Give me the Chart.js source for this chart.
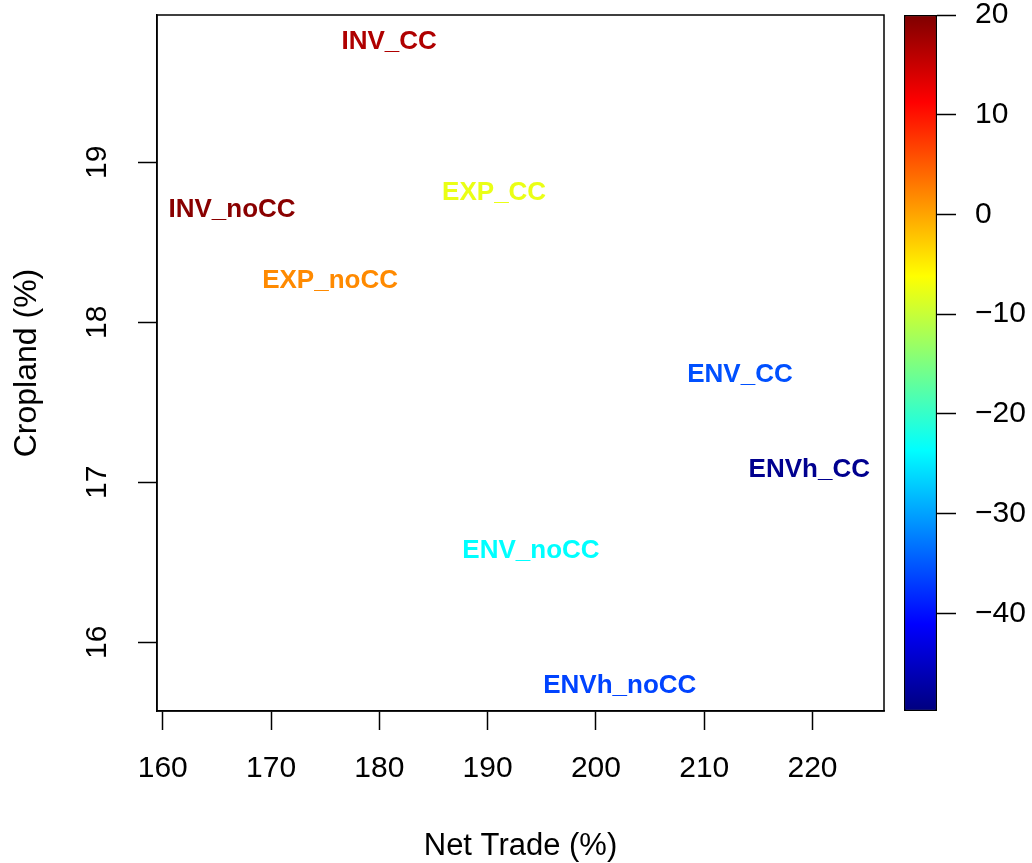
<!DOCTYPE html>
<html>
<head>
<meta charset="utf-8">
<script src="https://cdn.jsdelivr.net/npm/chart.js@4.4.0/dist/chart.umd.min.js"></script>
<style>
  html, body { margin: 0; padding: 0; background: #fff; }
  #wrap { position: relative; width: 1032px; height: 863px; }
  #main { position: absolute; left: 0; top: 0; }
  #bar { position: absolute; left: 880px; top: 0; }
</style>
</head>
<body>
<div id="wrap">
  <canvas id="main" width="1032" height="863"></canvas>
  <canvas id="bar" width="152" height="863"></canvas>
</div>
<script>
// scenarios and their coordinates
const scenarios = ['INV_CC', 'INV_noCC', 'EXP_CC', 'EXP_noCC', 'ENV_CC', 'ENVh_CC', 'ENV_noCC', 'ENVh_noCC'];
const netTrade = [180.9, 166.4, 190.6, 175.45, 213.3, 219.7, 194.0, 202.2];
const cropland = [19.75, 18.70, 18.81, 18.26, 17.67, 17.08, 16.57, 15.73];
// value used for the colour of each label
const colourValue = [16.7, 19.3, -7.6, 1.8, -35.6, -48.7, -23.6, -36.5];

const xTicks = [160, 170, 180, 190, 200, 210, 220];
const yTicks = [16, 17, 18, 19];
const colourTicks = [20, 10, 0, -10, -20, -30, -40];
const colourRange = [-49.8, 20];

const FONT = '"Liberation Sans", Arial, Helvetica, sans-serif';

// jet palette (matlab.like)
const jetStops = ['#00007F', '#0000FF', '#007FFF', '#00FFFF', '#7FFF7F', '#FFFF00', '#FF7F00', '#FF0000', '#7F0000'];

function hexToRgb(h) {
  return [parseInt(h.slice(1, 3), 16), parseInt(h.slice(3, 5), 16), parseInt(h.slice(5, 7), 16)];
}

function jet(v) {
  let t = (v - colourRange[0]) / (colourRange[1] - colourRange[0]);
  t = Math.max(0, Math.min(1, t));
  const pos = t * (jetStops.length - 1);
  const i = Math.min(Math.floor(pos), jetStops.length - 2);
  const f = pos - i;
  const a = hexToRgb(jetStops[i]);
  const b = hexToRgb(jetStops[i + 1]);
  const c = a.map((ch, k) => Math.round(ch + (b[k] - ch) * f));
  return `rgb(${c[0]},${c[1]},${c[2]})`;
}

// no extra room for overflowing tick labels
function noPad(s) {
  s.paddingTop = 0;
  s.paddingBottom = 0;
  s.paddingLeft = 0;
  s.paddingRight = 0;
}

const textLabels = {
  id: 'textLabels',
  afterDatasetsDraw(chart) {
    const ctx = chart.ctx;
    const meta = chart.getDatasetMeta(0);
    ctx.save();
    ctx.font = `bold 26px ${FONT}`;
    ctx.textAlign = 'center';
    ctx.textBaseline = 'middle';
    meta.data.forEach((pt, i) => {
      ctx.fillStyle = jet(colourValue[i]);
      ctx.fillText(scenarios[i], pt.x, pt.y);
    });
    ctx.restore();
  },
};

const plotBox = {
  id: 'plotBox',
  afterDraw(chart) {
    const a = chart.chartArea;
    const ctx = chart.ctx;
    ctx.save();
    ctx.strokeStyle = '#000';
    ctx.lineWidth = 1.5;
    ctx.strokeRect(a.left, a.top, a.right - a.left, a.bottom - a.top);
    ctx.restore();
  },
};

new Chart(document.getElementById('main'), {
  type: 'scatter',
  data: {
    datasets: [{
      data: netTrade.map((x, i) => ({ x: x, y: cropland[i] })),
      pointRadius: 0,
    }],
  },
  options: {
    responsive: false,
    animation: false,
    events: [],
    layout: { padding: { top: 15, right: 148, left: 0, bottom: 0 } },
    plugins: { legend: { display: false }, tooltip: { enabled: false } },
    scales: {
      x: {
        type: 'linear',
        min: 159.47,
        max: 226.6,
        afterFit: (s) => { s.height = 152; noPad(s); },
        afterBuildTicks: (s) => { s.ticks = xTicks.map((v) => ({ value: v })); },
        border: { display: true, color: '#000', width: 1.5 },
        grid: { drawOnChartArea: false, drawTicks: true, tickLength: 19, tickColor: '#000', tickWidth: 1.5 },
        ticks: {
          autoSkip: false, maxRotation: 0, padding: 21, color: '#000',
          font: { family: FONT, size: 30 },
        },
        title: {
          display: true, text: 'Net Trade (%)', color: '#000',
          font: { family: FONT, size: 31, lineHeight: 1 },
          padding: { top: 0, bottom: 1 },
        },
      },
      y: {
        type: 'linear',
        min: 15.57,
        max: 19.92,
        afterFit: (s) => { s.width = 157; noPad(s); },
        afterBuildTicks: (s) => { s.ticks = yTicks.map((v) => ({ value: v })); },
        border: { display: true, color: '#000', width: 1.5 },
        grid: { drawOnChartArea: false, drawTicks: true, tickLength: 19, tickColor: '#000', tickWidth: 1.5 },
        ticks: {
          minRotation: 90, maxRotation: 90, crossAlign: 'center', padding: 24,
          color: '#000', font: { family: FONT, size: 30 },
        },
        title: {
          display: true, text: 'Cropland (%)', color: '#000',
          font: { family: FONT, size: 32, lineHeight: 1 },
          padding: { top: 11, bottom: 0 },
        },
      },
    },
  },
  plugins: [textLabels, plotBox],
});

// colour key
new Chart(document.getElementById('bar'), {
  type: 'bar',
  data: {
    labels: [''],
    datasets: [{
      data: [colourRange],
      backgroundColor: (context) => {
        const area = context.chart.chartArea;
        if (!area) return jetStops[4];
        const g = context.chart.ctx.createLinearGradient(0, area.bottom, 0, area.top);
        jetStops.forEach((c, i) => g.addColorStop(i / (jetStops.length - 1), c));
        return g;
      },
      borderColor: '#000',
      borderWidth: 1.5,
      borderSkipped: false,
      barPercentage: 1,
      categoryPercentage: 1,
    }],
  },
  options: {
    responsive: false,
    animation: false,
    events: [],
    layout: { padding: { top: 15, left: 24, right: 0, bottom: 152 } },
    plugins: { legend: { display: false }, tooltip: { enabled: false } },
    scales: {
      x: { display: false },
      y: {
        position: 'right',
        min: colourRange[0],
        max: colourRange[1],
        afterFit: (s) => { s.width = 95; noPad(s); },
        afterBuildTicks: (s) => { s.ticks = colourTicks.map((v) => ({ value: v })); },
        border: { display: false },
        grid: { drawOnChartArea: false, drawTicks: true, tickLength: 19, tickColor: '#000', tickWidth: 1.5 },
        ticks: {
          padding: 19, color: '#000',
          font: { family: FONT, size: 30 },
          callback: (v) => (v < 0 ? '\u2212' + Math.abs(v) : String(v)),
        },
      },
    },
  },
});
</script>
</body>
</html>
